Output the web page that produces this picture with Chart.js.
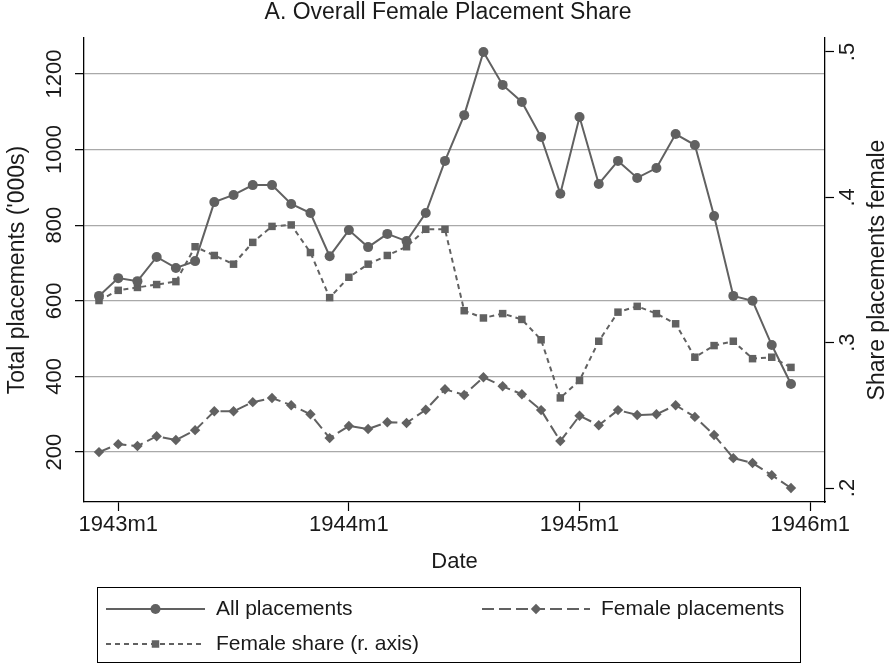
<!DOCTYPE html>
<html>
<head>
<meta charset="utf-8">
<script src="https://cdn.jsdelivr.net/npm/chart.js@4.4.0/dist/chart.umd.min.js"></script>
<style>
  html, body { margin: 0; padding: 0; background: #fff; }
  #wrap { width: 896px; height: 667px; }
</style>
</head>
<body>
<div id="wrap"><canvas id="placementChart" width="896" height="667"></canvas></div>
<script>
// monthly data, 1942m12 to 1945m12
const months = ['1942m12',
    '1943m1', '1943m2', '1943m3', '1943m4', '1943m5', '1943m6', '1943m7', '1943m8', '1943m9', '1943m10', '1943m11', '1943m12',
    '1944m1', '1944m2', '1944m3', '1944m4', '1944m5', '1944m6', '1944m7', '1944m8', '1944m9', '1944m10', '1944m11', '1944m12',
    '1945m1', '1945m2', '1945m3', '1945m4', '1945m5', '1945m6', '1945m7', '1945m8', '1945m9', '1945m10', '1945m11', '1945m12'];

const allPlacements = [613, 660, 652, 716, 687, 705, 861, 880, 906, 906, 856, 832, 718,
    787, 742, 777, 758, 832, 970, 1091, 1258, 1171, 1126, 1033, 883,
    1086, 909, 970, 925, 951, 1041, 1012, 824, 613, 600, 483, 380];

const femalePlacements = [200, 221, 216, 242, 232, 258, 308, 308, 332, 343, 324, 300, 237,
    269, 261, 279, 277, 312, 366, 351, 398, 374, 353, 311, 229,
    296, 271, 311, 298, 300, 324, 293, 245, 184, 171, 139, 105];

const femaleShare = [0.329, 0.336, 0.338, 0.340, 0.342, 0.366, 0.360, 0.354, 0.369, 0.380, 0.381, 0.362, 0.331,
    0.345, 0.354, 0.360, 0.366, 0.378, 0.378, 0.322, 0.317, 0.320, 0.316, 0.302, 0.262,
    0.274, 0.301, 0.321, 0.325, 0.320, 0.313, 0.290, 0.298, 0.301, 0.289, 0.290, 0.283];

const xTickLabels = ['1943m1', '1944m1', '1945m1', '1946m1'];
const leftTicks = [200, 400, 600, 800, 1000, 1200];
const rightTicks = [0.2, 0.3, 0.4, 0.5];
const rightTickLabels = ['.2', '.3', '.4', '.5'];

const GREY = '#616161';
const TEXT = '#1a1a1a';
const FONT = '"Liberation Sans", Arial, Helvetica, sans-serif';

// months since 1943m1
function monthIndex(label) {
    const parts = label.split('m').map(Number);
    return (parts[0] - 1943) * 12 + (parts[1] - 1);
}

function toPoints(values) {
    return values.map(function(v, i) { return { x: monthIndex(months[i]), y: v }; });
}

function fixTicks(values) {
    return function(scale) {
        scale.ticks = values.map(function(v) { return { value: v }; });
    };
}

const series = [
    { label: 'All placements', data: allPlacements, axis: 'yL', dash: [], style: 'circle', r: 5 },
    { label: 'Female placements', data: femalePlacements, axis: 'yL', dash: [12, 5], style: 'rectRot', r: 5.2 },
    { label: 'Female share (r. axis)', data: femaleShare, axis: 'yR', dash: [5, 4], style: 'rect', r: 5.3 }
];

// titles, rotated tick labels and the boxed legend
const stataText = {
    id: 'stataText',
    afterDraw(chart) {
        const ctx = chart.ctx;
        const area = chart.chartArea;
        const xs = chart.scales.x, yl = chart.scales.yL, yr = chart.scales.yR;
        const midY = (area.top + area.bottom) / 2;
        ctx.save();
        ctx.fillStyle = TEXT;
        ctx.textBaseline = 'middle';
        ctx.textAlign = 'center';

        ctx.font = '23px ' + FONT;
        ctx.fillText('A. Overall Female Placement Share', 448, 13);

        function vText(txt, x, y) {
            ctx.save();
            ctx.translate(x, y);
            ctx.rotate(-Math.PI / 2);
            ctx.fillText(txt, 0, 0);
            ctx.restore();
        }
        vText("Total placements ('000s)", 18, midY);
        vText('Share placements female', 878, midY);

        ctx.font = '22px ' + FONT;
        xTickLabels.forEach(function(lab) {
            ctx.fillText(lab, xs.getPixelForValue(monthIndex(lab)), 525);
        });
        leftTicks.forEach(function(v) { vText(String(v), 55, yl.getPixelForValue(v)); });
        rightTicks.forEach(function(v, i) { vText(rightTickLabels[i], 848, yr.getPixelForValue(v)); });
        ctx.fillText('Date', (area.left + area.right) / 2, 562);

        // legend box
        ctx.font = '21px ' + FONT;
        ctx.strokeStyle = '#000';
        ctx.lineWidth = 1;
        ctx.strokeRect(97.5, 587.5, 703, 75);
        const slots = [[106, 205, 609], [482, 590, 609], [106, 205, 644]];
        series.forEach(function(s, i) {
            const slot = slots[i];
            ctx.save();
            ctx.strokeStyle = GREY;
            ctx.lineWidth = 2;
            ctx.setLineDash(s.dash);
            ctx.beginPath();
            ctx.moveTo(slot[0], slot[2]);
            ctx.lineTo(slot[1], slot[2]);
            ctx.stroke();
            ctx.setLineDash([]);
            ctx.fillStyle = GREY;
            Chart.helpers.drawPoint(ctx, { pointStyle: s.style, radius: s.r, rotation: 0, borderWidth: 0 },
                (slot[0] + slot[1]) / 2, slot[2]);
            ctx.restore();
            ctx.textAlign = 'left';
            ctx.fillText(s.label, slot[1] + 11, slot[2]);
        });
        ctx.restore();
    }
};

document.addEventListener('DOMContentLoaded', function() {
    const ctx = document.getElementById('placementChart').getContext('2d');

    new Chart(ctx, {
        type: 'line',
        data: {
            datasets: series.map(function(s) {
                return {
                    label: s.label,
                    data: toPoints(s.data),
                    yAxisID: s.axis,
                    borderColor: GREY,
                    borderWidth: 2,
                    borderDash: s.dash,
                    tension: 0,
                    fill: false,
                    pointStyle: s.style,
                    pointRadius: s.r,
                    pointBackgroundColor: GREY,
                    pointBorderWidth: 0
                };
            })
        },
        options: {
            responsive: false,
            animation: false,
            devicePixelRatio: 1,
            layout: { padding: { top: 38, left: 0, right: 0, bottom: 0 } },
            plugins: { legend: { display: false }, title: { display: false }, tooltip: { enabled: false } },
            scales: {
                x: {
                    type: 'linear',
                    position: 'bottom',
                    min: -1.78,
                    max: 36.77,
                    afterBuildTicks: fixTicks(xTickLabels.map(monthIndex)),
                    afterFit: function(scale) { scale.height = 165; },
                    ticks: { display: false },
                    grid: { drawOnChartArea: false, drawTicks: true, tickLength: 9, tickColor: '#000', tickWidth: 1.2 },
                    border: { display: true, color: '#000', width: 1.3 }
                },
                yL: {
                    type: 'linear',
                    position: 'left',
                    min: 68,
                    max: 1295,
                    afterBuildTicks: fixTicks(leftTicks),
                    afterFit: function(scale) { scale.width = 84; },
                    ticks: { display: false },
                    grid: { color: '#a9a9a9', lineWidth: 1.3, drawTicks: true, tickLength: 9, tickColor: '#000', tickWidth: 1.2 },
                    border: { display: true, color: '#000', width: 1.3 }
                },
                yR: {
                    type: 'linear',
                    position: 'right',
                    min: 0.1904,
                    max: 0.5096,
                    afterBuildTicks: fixTicks(rightTicks),
                    afterFit: function(scale) { scale.width = 71; },
                    ticks: { display: false },
                    grid: { drawOnChartArea: false, drawTicks: true, tickLength: 9, tickColor: '#000', tickWidth: 1.2 },
                    border: { display: true, color: '#000', width: 1.3 }
                }
            }
        },
        plugins: [stataText]
    });
});
</script>
</body>
</html>
